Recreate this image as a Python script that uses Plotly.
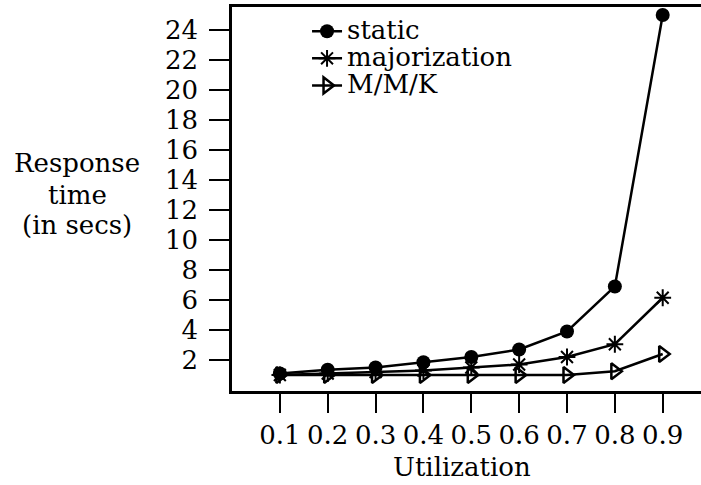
import plotly.graph_objects as go

utilization = [0.1, 0.2, 0.3, 0.4, 0.5, 0.6, 0.7, 0.8, 0.9]
static = [1.1, 1.35, 1.5, 1.85, 2.2, 2.7, 3.9, 6.9, 25.0]
majorization = [1.0, 1.1, 1.2, 1.3, 1.5, 1.7, 2.2, 3.05, 6.15]
mmk = [1.0, 1.0, 1.0, 1.0, 1.0, 1.0, 1.0, 1.25, 2.4]
x_ticks = [0.1, 0.2, 0.3, 0.4, 0.5, 0.6, 0.7, 0.8, 0.9]
y_ticks = [2, 4, 6, 8, 10, 12, 14, 16, 18, 20, 22, 24]

FONT = "DejaVu Serif"
W, H = 701, 485
ML, MR, MT, MB = 232, 0, 7, 94

def lbl(s):
    return '<span style="font-size:26px">' + s + '</span>'

fig = go.Figure()
fig.add_trace(go.Scatter(x=utilization, y=static, name=lbl("static"), mode="lines+markers",
                         line=dict(color="black", width=2.5),
                         marker=dict(symbol="circle", size=14, color="black")))
fig.add_trace(go.Scatter(x=utilization, y=majorization, name=lbl("majorization"), mode="lines+markers",
                         line=dict(color="black", width=2.5),
                         marker=dict(symbol="asterisk-open", size=14, color="black",
                                     line=dict(color="black", width=2))))
fig.add_trace(go.Scatter(x=utilization, y=mmk, name=lbl("M/M/K"), mode="lines+markers",
                         line=dict(color="black", width=2.5),
                         marker=dict(symbol="triangle-right-open", size=14, color="black",
                                     line=dict(color="black", width=2.5))))

ph = H - MT - MB
def py(pix):
    return (H - MB - pix) / ph

annos = []
for txt, ypix in [("Response", 163), ("time", 195), ("(in secs)", 225)]:
    annos.append(dict(text=txt, xref="paper", yref="paper", x=(77 - ML) / (W - ML - MR),
                      y=py(ypix), xanchor="center", yanchor="middle", showarrow=False,
                      font=dict(family=FONT, size=26, color="black")))
annos.append(dict(text="Utilization", xref="paper", yref="paper", x=(462 - ML) / (W - ML - MR),
                  y=py(467), xanchor="center", yanchor="middle", showarrow=False,
                  font=dict(family=FONT, size=26, color="black")))

fig.update_layout(
    width=W, height=H,
    margin=dict(l=ML, r=MR, t=MT, b=MB, pad=0),
    paper_bgcolor="white", plot_bgcolor="white",
    font=dict(family=FONT, color="black"),
    showlegend=True,
    legend=dict(x=0.16, y=0.985, xanchor="left", yanchor="top",
                bgcolor="rgba(0,0,0,0)", borderwidth=0,
                font=dict(family=FONT, size=18.5, color="black"),
                itemwidth=30),
    annotations=annos,
    xaxis=dict(range=[0, 0.98], tickvals=x_ticks, ticktext=[str(v) for v in x_ticks],
               showgrid=False, zeroline=False, showline=True, linecolor="black", linewidth=2.5,
               mirror=True, ticks="outside", ticklen=19, tickwidth=2, tickcolor="black",
               tickfont=dict(family=FONT, size=26, color="black")),
    yaxis=dict(range=[-0.067, 25.53], tickvals=y_ticks, ticktext=[str(v) for v in y_ticks],
               showgrid=False, zeroline=False, showline=True, linecolor="black", linewidth=2.5,
               mirror=False, ticks="outside", ticklen=20, tickwidth=2, tickcolor="black",
               ticklabelstandoff=6,
               tickfont=dict(family=FONT, size=26, color="black")),
)

fig.write_html("out.html", config={"displayModeBar": False},
               post_script="document.body.style.margin='0';document.body.style.overflow='hidden';")
